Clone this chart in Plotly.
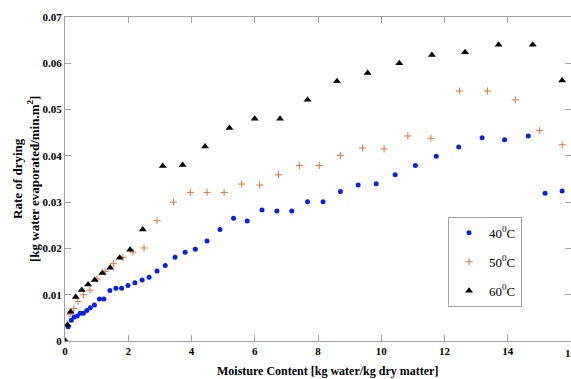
import plotly.graph_objects as go

# 40 C series
x40 = [0.10, 0.20, 0.29, 0.39, 0.48, 0.58, 0.69, 0.80, 0.93, 1.09, 1.23, 1.42, 1.61, 1.79, 1.99,
       2.21, 2.44, 2.66, 2.91, 3.17, 3.48, 3.80, 4.12, 4.49, 4.90, 5.33, 5.76, 6.23, 6.70, 7.17,
       7.67, 8.16, 8.71, 9.27, 9.84, 10.44, 11.08, 11.74, 12.45, 13.19, 13.90, 14.65, 15.18, 15.72]
y40 = [0.0031, 0.0045, 0.0052, 0.0054, 0.0060, 0.0060, 0.0066, 0.0072, 0.0078, 0.0091, 0.0091,
       0.0109, 0.0114, 0.0114, 0.0120, 0.0126, 0.0132, 0.0138, 0.0151, 0.0163, 0.0181, 0.0192,
       0.0198, 0.0216, 0.0241, 0.0265, 0.0259, 0.0283, 0.0281, 0.0281, 0.0301, 0.0301, 0.0323,
       0.0337, 0.0340, 0.0359, 0.0379, 0.0399, 0.0419, 0.0439, 0.0435, 0.0443, 0.0319, 0.0324]

# 50 C series
x50 = [0.16, 0.28, 0.41, 0.58, 0.79, 1.01, 1.27, 1.53, 1.83, 2.15, 2.50, 2.91, 3.43, 3.96, 4.49,
       5.03, 5.59, 6.16, 6.75, 7.41, 8.04, 8.71, 9.41, 10.09, 10.84, 11.57, 12.47, 13.36, 14.24,
       15.01, 15.72]
y50 = [0.0058, 0.0070, 0.0085, 0.0100, 0.0110, 0.0134, 0.0150, 0.0167, 0.0181, 0.0192, 0.0201,
       0.0260, 0.0300, 0.0321, 0.0321, 0.0321, 0.0339, 0.0337, 0.0359, 0.0379, 0.0379, 0.0401,
       0.0417, 0.0415, 0.0443, 0.0438, 0.0540, 0.0540, 0.0521, 0.0455, 0.0424]

# 60 C series
x60 = [0.0, 0.08, 0.18, 0.34, 0.53, 0.73, 0.94, 1.18, 1.43, 1.73, 2.06, 2.46, 3.09, 3.72, 4.43,
       5.20, 6.00, 6.80, 7.67, 8.60, 9.57, 10.57, 11.60, 12.65, 13.71, 14.79, 15.72]
y60 = [0.0001, 0.0035, 0.0063, 0.0095, 0.0110, 0.0122, 0.0132, 0.0147, 0.0158, 0.0180, 0.0197,
       0.0241, 0.0378, 0.0380, 0.0420, 0.0460, 0.0480, 0.0480, 0.0521, 0.0561, 0.0579, 0.0600,
       0.0618, 0.0624, 0.0640, 0.0640, 0.0563]

names = ["40<sup>0</sup>C", "50<sup>0</sup>C", "60<sup>0</sup>C"]
xticks = [0, 2, 4, 6, 8, 10, 12, 14]
edge_tick = 16
yticks = [0, 0.01, 0.02, 0.03, 0.04, 0.05, 0.06, 0.07]
ytext = ["0", "0.01", "0.02", "0.03", "0.04", "0.05", "0.06", "0.07"]

FONT = "Liberation Serif"

fig = go.Figure()
fig.add_trace(go.Scatter(x=x40, y=y40, mode="markers", name=names[0], legendgroup="a",
                         marker=dict(symbol="circle", size=5, color="#0a1ef0")))
fig.add_trace(go.Scatter(x=x50, y=y50, mode="markers", name=names[1], legendgroup="b",
                         marker=dict(symbol="cross-thin", size=5, color="#e4703c",
                                     line=dict(width=1, color="#e4703c"))))
fig.add_trace(go.Scatter(x=x60, y=y60, mode="markers", name=names[2], legendgroup="c",
                         marker=dict(symbol="triangle-up", size=7, color="black")))

axis_common = dict(showline=True, linecolor="#a0a0a0", linewidth=1, mirror="ticks",
                   ticks="inside", ticklen=6, tickcolor="#a0a0a0", showgrid=False,
                   zeroline=False,
                   tickfont=dict(family=FONT, size=11, color="black", weight="bold"))

fig.update_xaxes(range=[0, 16], tickvals=xticks + [edge_tick],
                 ticktext=[str(v) for v in xticks] + [""], **axis_common)
fig.update_yaxes(range=[0, 0.07], tickvals=yticks, ticktext=ytext, **axis_common)

# partially visible edge tick label (cut by the picture border)
fig.add_annotation(text="<b>%d</b>" % edge_tick, xref="x", yref="paper", x=edge_tick, y=0,
                   yshift=-12, xanchor="center", yanchor="middle", showarrow=False,
                   font=dict(family=FONT, size=11, color="black"))

fig.add_annotation(text="<b>Rate of drying</b><br><b>[kg water evaporated/min.m<sup>2</sup>]</b>",
                   xref="paper", yref="paper", x=-0.077, y=0.5, xanchor="center", yanchor="middle",
                   textangle=-90, showarrow=False,
                   font=dict(family=FONT, size=13, color="black"))
fig.add_annotation(text="<b>Moisture Content [kg water/kg dry matter]</b>",
                   xref="paper", yref="paper", x=0.518, y=-0.093, xanchor="center", yanchor="middle",
                   showarrow=False, font=dict(family=FONT, size=12, color="black"))

fig.update_layout(
    width=571, height=379,
    margin=dict(l=65, r=0, t=17, b=38),
    paper_bgcolor="white", plot_bgcolor="white",
    showlegend=True,
    legend=dict(x=0.757, y=0.383, xanchor="left", yanchor="top",
                bordercolor="#a0a0a0", borderwidth=1, bgcolor="white",
                tracegroupgap=9,
                font=dict(family=FONT, size=13, color="black")),
)

fig.write_html("out.html")
